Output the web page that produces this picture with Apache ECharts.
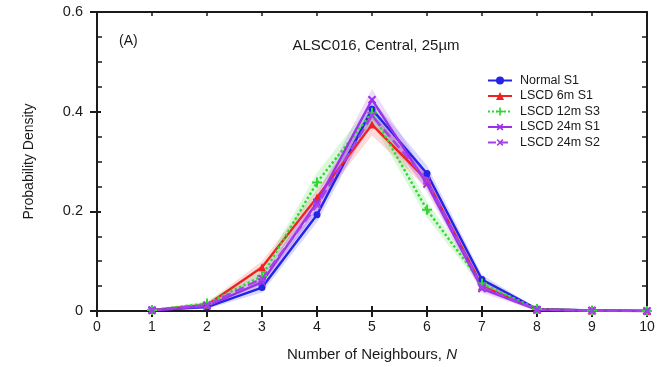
<!DOCTYPE html>
<html>
<head>
<meta charset="utf-8">
<script src="https://cdn.jsdelivr.net/npm/echarts@6/dist/echarts.min.js"></script>
<style>
  html, body {margin: 0; padding: 0; background: #fff;}
  #chart {width: 664px; height: 367px;}
</style>
</head>
<body>
<div id="chart"></div>
<script>
// neighbour counts
const neighbours = [1, 2, 3, 4, 5, 6, 7, 8, 9, 10];

// probability densities
const normalS1 = [0.002, 0.008, 0.047, 0.193, 0.405, 0.276, 0.063, 0.004, 0.001, 0.0];
const lscd6mS1 = [0.002, 0.012, 0.088, 0.228, 0.374, 0.262, 0.050, 0.003, 0.001, 0.0];
const lscd12mS3 = [0.002, 0.015, 0.070, 0.258, 0.398, 0.203, 0.055, 0.004, 0.001, 0.0];
const lscd24mS1 = [0.001, 0.010, 0.058, 0.218, 0.424, 0.255, 0.045, 0.002, 0.001, 0.0];
const lscd24mS2 = [0.002, 0.012, 0.065, 0.212, 0.392, 0.262, 0.048, 0.003, 0.001, 0.0];

// half widths of the shaded bands
const normalBand = [0.001, 0.004, 0.010, 0.015, 0.020, 0.016, 0.009, 0.002, 0.001, 0.0];
const lscd6mBand = [0.001, 0.005, 0.012, 0.016, 0.022, 0.016, 0.009, 0.002, 0.001, 0.0];
const lscd12mBand = [0.001, 0.005, 0.012, 0.020, 0.020, 0.016, 0.009, 0.002, 0.001, 0.0];
const lscd24mS1Band = [0.001, 0.004, 0.010, 0.016, 0.022, 0.016, 0.009, 0.002, 0.001, 0.0];
const lscd24mS2Band = [0.001, 0.004, 0.010, 0.014, 0.018, 0.014, 0.008, 0.002, 0.001, 0.0];

const xTicks = [0, 1, 2, 3, 4, 5, 6, 7, 8, 9, 10];
const yTicks = [0, 0.2, 0.4, 0.6];

const plusPath = 'path://M4,0H6V4H10V6H6V10H4V6H0V4H4Z';

const groups = [
  {name: 'Normal S1', values: normalS1, band: normalBand, color: '#2424e6', type: 'solid', symbol: 'circle', rotate: 0, size: 7},
  {name: 'LSCD 6m S1', values: lscd6mS1, band: lscd6mBand, color: '#ee2222', type: 'solid', symbol: 'triangle', rotate: 0, size: 8},
  {name: 'LSCD 12m S3', values: lscd12mS3, band: lscd12mBand, color: '#2fd82f', type: 'dotted', symbol: plusPath, rotate: 0, size: 10},
  {name: 'LSCD 24m S1', values: lscd24mS1, band: lscd24mS1Band, color: '#9a30e8', type: 'solid', symbol: plusPath, rotate: 45, size: 10},
  {name: 'LSCD 24m S2', values: lscd24mS2, band: lscd24mS2Band, color: '#a640ea', type: 'dashed', symbol: plusPath, rotate: 45, size: 10},
];

const font = 'Liberation Sans, Arial, sans-serif';
const ink = '#1a1a1a';

// shaded band: polygon along the upper edge and back along the lower edge
const bandSeries = groups.map(g => ({
  type: 'custom', xAxisIndex: 0, yAxisIndex: 0, silent: true, z: 1,
  data: [0],
  renderItem: (params, api) => {
    const upper = neighbours.map((n, k) => api.coord([n, g.values[k] + g.band[k]]));
    const lower = neighbours.map((n, k) => api.coord([n, Math.max(0, g.values[k] - g.band[k])])).reverse();
    return {
      type: 'polygon',
      shape: {points: upper.concat(lower)},
      style: {fill: g.color, opacity: 0.17},
    };
  },
}));

const lineSeries = groups.map(g => ({
  name: g.name,
  type: 'line', xAxisIndex: 0, yAxisIndex: 0, z: 3,
  data: neighbours.map((n, k) => [n, g.values[k]]),
  symbol: g.symbol, symbolRotate: g.rotate, symbolSize: g.size,
  showAllSymbol: true,
  lineStyle: {color: g.color, width: 2.4, type: g.type},
  itemStyle: {color: g.color},
}));

const gridRect = {left: 97, right: 17, top: 12, bottom: 56};
const chart = echarts.init(document.getElementById('chart'));

chart.setOption({
  backgroundColor: '#fff',
  animation: false,
  textStyle: {fontFamily: font},
  title: [
    {text: 'ALSC016, Central, 25µm', left: 371, top: 33, textAlign: 'center',
      textStyle: {fontSize: 15, fontWeight: 'normal', color: ink, fontFamily: font}},
    {text: '(A)', left: 114, top: 29,
      textStyle: {fontSize: 14, fontWeight: 'normal', color: ink, fontFamily: font}},
  ],
  legend: {
    left: 482, top: 69, orient: 'vertical', itemGap: 2.5,
    itemWidth: 24, itemHeight: 10,
    textStyle: {fontSize: 12.5, color: ink, fontFamily: font, padding: [0, 0, 0, 3]},
    data: groups.map(g => g.name),
  },
  grid: [Object.assign({}, gridRect), Object.assign({}, gridRect)],
  xAxis: [
    {
      type: 'value', gridIndex: 0, min: 0, max: 10, interval: 1, position: 'bottom',
      name: 'Number of Neighbours, {i|N}', nameLocation: 'middle', nameGap: 36,
      nameTextStyle: {fontSize: 15, color: ink, rich: {i: {fontStyle: 'italic', fontSize: 15, color: ink}}},
      axisLine: {show: true, onZero: false, lineStyle: {color: ink, width: 2}},
      axisTick: {show: true, inside: false, length: 6, lineStyle: {color: ink, width: 2}},
      axisLabel: {fontSize: 14, color: ink, margin: 9, formatter: v => xTicks.includes(v) ? String(v) : ''},
      splitLine: {show: false},
    },
    {
      type: 'value', gridIndex: 1, min: 0, max: 10, interval: 1, position: 'bottom',
      axisLine: {show: false, onZero: false},
      axisTick: {show: true, inside: true, length: 5, lineStyle: {color: ink, width: 2}},
      axisLabel: {show: false}, splitLine: {show: false},
    },
    {
      type: 'value', gridIndex: 1, min: 0, max: 10, interval: 1, position: 'top',
      axisLine: {show: true, onZero: false, lineStyle: {color: ink, width: 2}},
      axisTick: {show: true, inside: true, length: 4, lineStyle: {color: ink, width: 1.5}},
      axisLabel: {show: false}, splitLine: {show: false},
    },
  ],
  yAxis: [
    {
      type: 'value', gridIndex: 0, min: 0, max: 0.6, interval: 0.2, position: 'left',
      name: 'Probability Density', nameLocation: 'middle', nameGap: 61,
      nameTextStyle: {fontSize: 14, color: ink},
      axisLine: {show: true, onZero: false, lineStyle: {color: ink, width: 2}},
      axisTick: {show: true, inside: false, length: 7, lineStyle: {color: ink, width: 2}},
      axisLabel: {fontSize: 14.5, color: ink, margin: 14, formatter: v => {
        const t = yTicks.find(y => Math.abs(y - v) < 1e-9);
        return t === undefined ? '' : String(t);
      }},
      splitLine: {show: false},
    },
    {
      type: 'value', gridIndex: 1, min: 0, max: 0.6, interval: 0.2, position: 'left',
      axisLine: {show: false, onZero: false},
      axisTick: {show: true, inside: true, length: 4, lineStyle: {color: ink, width: 2}},
      minorTick: {show: true, splitNumber: 4, length: 5, lineStyle: {color: ink, width: 1.5}},
      axisLabel: {show: false}, splitLine: {show: false},
    },
    {
      type: 'value', gridIndex: 1, min: 0, max: 0.6, interval: 0.2, position: 'right',
      axisLine: {show: true, onZero: false, lineStyle: {color: ink, width: 2}},
      axisTick: {show: true, inside: true, length: 5, lineStyle: {color: ink, width: 1.5}},
      minorTick: {show: true, splitNumber: 4, length: 5, lineStyle: {color: ink, width: 1.5}},
      axisLabel: {show: false}, splitLine: {show: false},
    },
  ],
  series: bandSeries.concat(lineSeries),
});
</script>
</body>
</html>
